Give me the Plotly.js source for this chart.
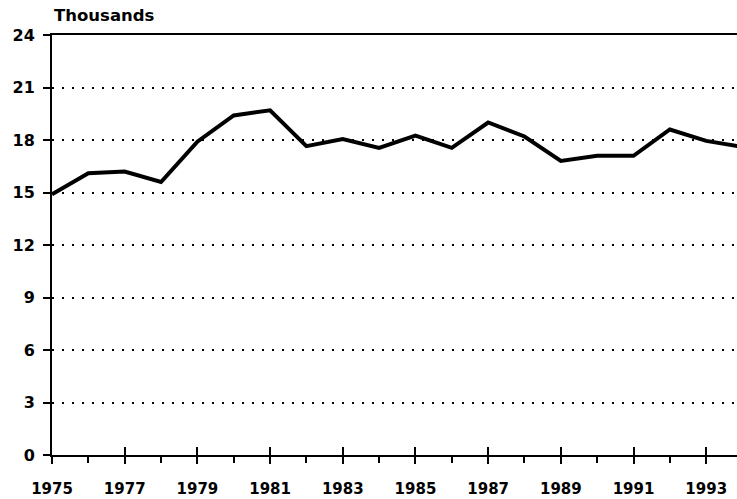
<!DOCTYPE html>
<html>
<head>
<meta charset="utf-8">
<script src="https://cdn.plot.ly/plotly-3.0.1.min.js"></script>
<style>html,body{margin:0;padding:0;background:#fff;overflow:hidden;}#chart{width:800px;height:499px;}</style>
</head>
<body>
<div id="chart"></div>
<script>
const years = [1975,1976,1977,1978,1979,1980,1981,1982,1983,1984,1985,1986,1987,1988,1989,1990,1991,1992,1993,1994,1995];
const values = [14.9,16.1,16.2,15.6,17.9,19.4,19.7,17.65,18.05,17.55,18.25,17.55,19.0,18.2,16.8,17.1,17.1,18.6,17.95,17.6,17.6];
const xTickVals = [1975,1977,1979,1981,1983,1985,1987,1989,1991,1993];
const xTickText = ['1975','1977','1979','1981','1983','1985','1987','1989','1991','1993'];
const xMinorVals = [1976,1978,1980,1982,1984,1986,1988,1990,1992];
const yTickVals = [0,3,6,9,12,15,18,21,24];
const yTickText = ['0','3','6','9','12','15','18','21','24'];

const font = {family: 'DejaVu Sans', size: 15, color: '#000', weight: 'bold'};
const xRange = [1975, 1994.48];

const data = [{
  x: years, y: values, type: 'scatter', mode: 'lines',
  line: {color: '#000', width: 4}, hoverinfo: 'skip', showlegend: false
}, {
  x: years, y: values, xaxis: 'x2', type: 'scatter', mode: 'lines',
  line: {color: 'rgba(0,0,0,0)', width: 0}, hoverinfo: 'skip', showlegend: false
}, {
  x: years, y: values, xaxis: 'x3', type: 'scatter', mode: 'lines',
  line: {color: 'rgba(0,0,0,0)', width: 0}, hoverinfo: 'skip', showlegend: false
}, {
  x: years, y: values, xaxis: 'x4', type: 'scatter', mode: 'lines',
  line: {color: 'rgba(0,0,0,0)', width: 0}, hoverinfo: 'skip', showlegend: false
}];

const layout = {
  width: 800, height: 499,
  margin: {l: 52, r: 40, t: 35, b: 44},
  paper_bgcolor: '#fff', plot_bgcolor: '#fff',
  font: font,
  showlegend: false,
  xaxis: {
    range: xRange,
    tickmode: 'array', tickvals: xTickVals, ticktext: xTickText,
    ticks: 'outside', ticklen: 7, tickwidth: 2, tickcolor: '#000',
    showline: true, linecolor: '#000', linewidth: 2,
    showgrid: false, zeroline: false,
    tickfont: font, ticklabelstandoff: 12
  },
  xaxis2: {
    overlaying: 'x', side: 'bottom', anchor: 'y',
    range: xRange,
    tickmode: 'array', tickvals: xTickVals,
    ticks: 'inside', ticklen: 8, tickwidth: 2, tickcolor: '#000',
    showticklabels: false, showline: false, showgrid: false, zeroline: false
  },
  xaxis3: {
    overlaying: 'x', side: 'top', anchor: 'y',
    range: xRange,
    ticks: '', showticklabels: false,
    showline: true, linecolor: '#000', linewidth: 2, showgrid: false, zeroline: false
  },
  xaxis4: {
    overlaying: 'x', side: 'bottom', anchor: 'y',
    range: xRange,
    tickmode: 'array', tickvals: xMinorVals,
    ticks: 'outside', ticklen: 7, tickwidth: 2, tickcolor: '#000',
    showticklabels: false, showline: false, showgrid: false, zeroline: false
  },
  yaxis: {
    range: [0, 24],
    tickmode: 'array', tickvals: yTickVals, ticktext: yTickText,
    ticks: 'outside', ticklen: 7, tickwidth: 2, tickcolor: '#000',
    showline: true, linecolor: '#000', linewidth: 2,
    showgrid: true, gridcolor: '#000', gridwidth: 2, griddash: '2px,8px',
    zeroline: false, tickfont: {family: 'DejaVu Sans', size: 16, color: '#000', weight: 'bold'}, ticklabelstandoff: 5
  },
  annotations: [{
    text: 'Thousands', xref: 'paper', yref: 'paper', x: 0, y: 1,
    xanchor: 'left', yanchor: 'bottom', yshift: 8, showarrow: false,
    font: {family: 'DejaVu Sans', size: 16.5, color: '#000', weight: 'bold'}
  }]
};

Plotly.newPlot('chart', data, layout, {staticPlot: true, displayModeBar: false});
</script>
</body>
</html>
